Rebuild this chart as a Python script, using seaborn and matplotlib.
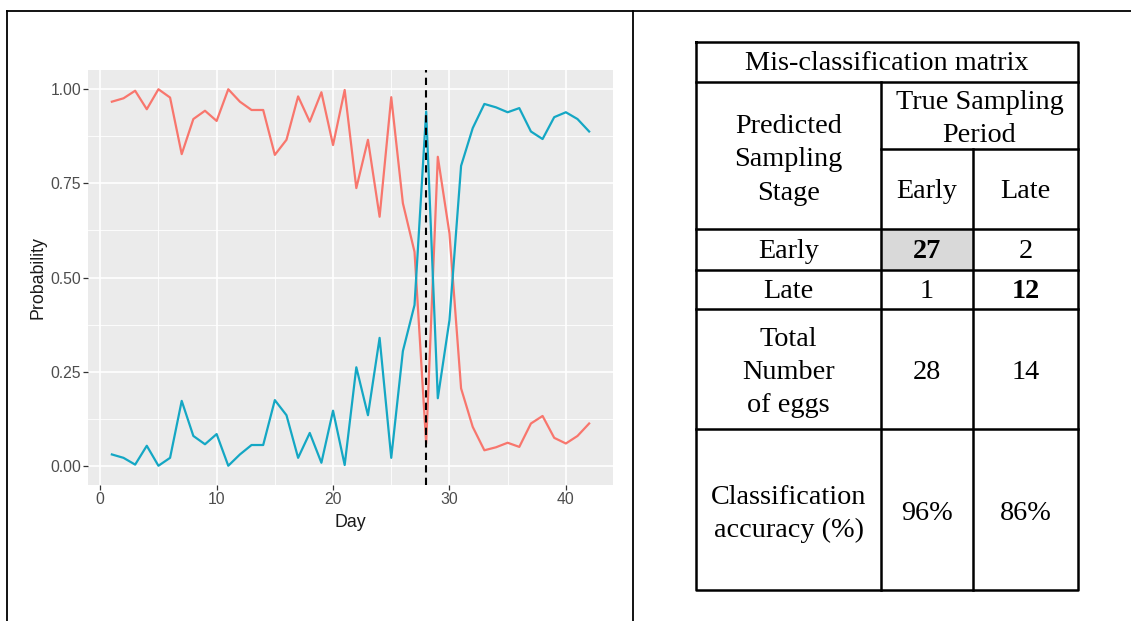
import matplotlib
matplotlib.use("Agg")
import matplotlib.pyplot as plt
import numpy as np
import pandas as pd
import seaborn as sns
from matplotlib.patches import Rectangle

# values
days = list(range(1, 43))
prob_early = [0.966, 0.975, 0.995, 0.946, 0.999, 0.977, 0.827, 0.920, 0.942, 0.915,
              0.999, 0.966, 0.944, 0.944, 0.825, 0.865, 0.980, 0.913, 0.991, 0.851,
              0.997, 0.737, 0.865, 0.661, 0.978, 0.697, 0.568, 0.060, 0.820, 0.617,
              0.206, 0.104, 0.042, 0.050, 0.062, 0.051, 0.113, 0.133, 0.075, 0.060,
              0.080, 0.113]
prob_late = [0.031, 0.022, 0.004, 0.054, 0.001, 0.022, 0.173, 0.080, 0.058, 0.085,
             0.001, 0.031, 0.056, 0.056, 0.175, 0.135, 0.022, 0.088, 0.009, 0.147,
             0.003, 0.262, 0.135, 0.340, 0.022, 0.305, 0.427, 0.940, 0.180, 0.387,
             0.796, 0.896, 0.960, 0.951, 0.938, 0.949, 0.887, 0.867, 0.925, 0.938,
             0.920, 0.887]
cutoff_day = 28
x_ticks = [0, 10, 20, 30, 40]
y_ticks = [0.0, 0.25, 0.5, 0.75, 1.0]

# table content
table_title = "Mis-classification matrix"
row_header = "Predicted\nSampling\nStage"
col_header = "True Sampling\nPeriod"
col_labels = ["Early", "Late"]
row_labels = ["Early", "Late", "Total\nNumber\nof eggs", "Classification\naccuracy (%)"]
table_values = [["27", "2"], ["1", "12"], ["28", "14"], ["96%", "86%"]]
bold_cells = [(0, 0), (1, 1)]
shaded_cells = [(0, 0)]

W, H = 1131, 621
fig = plt.figure(figsize=(W / 100, H / 100), dpi=100)

# overlay in pixel coordinates for frame and table
frame = fig.add_axes([0, 0, 1, 1])
frame.set_xlim(0, W)
frame.set_ylim(H, 0)
frame.axis("off")

frame.plot([7, W], [11, 11], color="black", lw=1.3)
frame.plot([7, 7], [11, H], color="black", lw=1.3)
frame.plot([633, 633], [11, H], color="black", lw=1.3)

# --- chart (ggplot look) ---
df = pd.DataFrame({
    "Day": days * 2,
    "Probability": prob_early + prob_late,
    "Class": ["Early"] * len(days) + ["Late"] * len(days),
})

ax = fig.add_axes([88 / W, 1 - 485 / H, 525 / W, 415 / H])
ax.set_facecolor("#EBEBEB")
for s in ax.spines.values():
    s.set_visible(False)
ax.set_xlim(-1.05, 44.05)
ax.set_ylim(-0.05, 1.05)
for v in [5, 15, 25, 35]:
    ax.axvline(v, color="white", lw=0.6, zorder=0)
for v in [0.125, 0.375, 0.625, 0.875]:
    ax.axhline(v, color="white", lw=0.6, zorder=0)
for v in x_ticks:
    ax.axvline(v, color="white", lw=1.2, zorder=0)
for v in y_ticks:
    ax.axhline(v, color="white", lw=1.2, zorder=0)

sns.lineplot(data=df, x="Day", y="Probability", hue="Class",
             palette={"Early": "#F8766D", "Late": "#14A7C4"},
             linewidth=1.6, legend=False, ax=ax, zorder=2)
ax.axvline(cutoff_day, color="black", lw=1.5, ls=(0, (3.5, 2.5)), zorder=3)

ax.set_xticks(x_ticks)
ax.set_yticks(y_ticks)
ax.set_yticklabels([f"{v:.2f}" for v in y_ticks])
ax.tick_params(length=3.5, width=0.9, color="#333333", labelcolor="#4D4D4D",
               labelsize=11.3, pad=1.5)
for lab in ax.get_xticklabels() + ax.get_yticklabels():
    lab.set_family("Liberation Sans")
ax.set_xlabel("Day", fontsize=12.8, family="Liberation Sans", labelpad=5, color="#1A1A1A")
ax.set_ylabel("Probability", fontsize=12.8, family="Liberation Sans", labelpad=3,
              color="#1A1A1A")

# --- table ---
xl, xm1, xm2, xr = 696, 881, 973, 1078
row_lines = [42, 82, 149, 229, 270, 309, 429, 590]
tkw = dict(family="Liberation Serif", fontsize=20.3, ha="center", va="center",
           linespacing=1.44, color="black")

for (r, c) in shaded_cells:
    y0, y1 = row_lines[3 + r], row_lines[4 + r]
    x0 = [xm1, xm2][c]
    x1 = [xm2, xr][c]
    frame.add_patch(Rectangle((x0, y0), x1 - x0, y1 - y0, color="#D9D9D9", zorder=1))

lw = 1.8
frame.plot([xl, xr, xr, xl, xl], [42, 42, 590, 590, 42], color="black", lw=lw)
frame.plot([xl, xr], [82, 82], color="black", lw=lw)
frame.plot([xm1, xr], [149, 149], color="black", lw=lw)
for y in row_lines[3:7]:
    frame.plot([xl, xr], [y, y], color="black", lw=lw)
frame.plot([xm1, xm1], [82, 590], color="black", lw=lw)
frame.plot([xm2, xm2], [149, 590], color="black", lw=lw)

frame.text((xl + xr) / 2, 64, table_title, **tkw)
frame.text((xl + xm1) / 2, 160, row_header, **tkw)
frame.text((xm1 + xr) / 2, 119, col_header, **tkw)
col_centers = [(xm1 + xm2) / 2, (xm2 + xr) / 2]
for c, lab in enumerate(col_labels):
    frame.text(col_centers[c], 191, lab, **tkw)
row_shift = [1.5, 1.5, 3.5, 4.5]
for r, lab in enumerate(row_labels):
    yc = (row_lines[3 + r] + row_lines[4 + r]) / 2 + row_shift[r]
    frame.text((xl + xm1) / 2, yc, lab, **tkw)
    for c, val in enumerate(table_values[r]):
        w = "bold" if (r, c) in bold_cells else "normal"
        frame.text(col_centers[c], yc, val, fontweight=w, **tkw)

fig.savefig("out.png", dpi=100)
